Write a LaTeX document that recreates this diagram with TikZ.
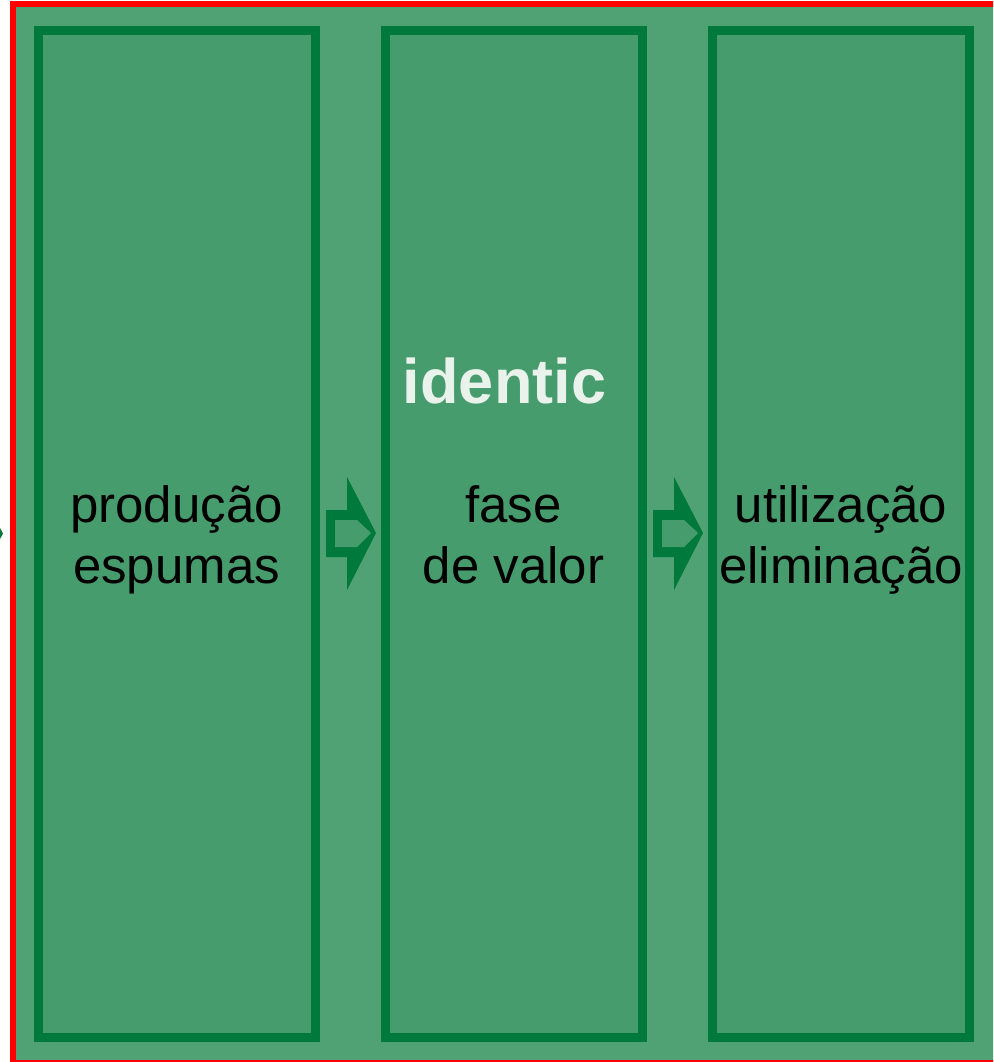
\documentclass[tikz,border=0pt]{standalone}
\usepackage{fontspec}
\setmainfont{Liberation Sans}
\definecolor{framered}{RGB}{255,0,0}
\definecolor{panelgreen}{RGB}{80,162,116}
\definecolor{boxgreen}{RGB}{71,156,110}
\definecolor{linegreen}{RGB}{0,122,60}
\definecolor{paletext}{RGB}{234,242,236}
\tikzset{
  phase/.style={draw=linegreen, fill=boxgreen, line width=9pt,
    minimum height=1006.5pt, inner sep=0pt},
  phaselabel/.style={anchor=base, text=black, inner sep=0pt,
    font=\fontsize{51}{61}\selectfont},
  headlabel/.style={anchor=base, text=paletext, inner sep=0pt,
    font=\fontsize{63}{72}\selectfont\bfseries},
}
% hollow block arrow whose left end sits at the given coordinate (shaft centre)
\newcommand\hollowarrow[1]{%
  \fill[linegreen] ($(#1)+(0,-25)$) -- ++(21,0) -- ++(0,-33) -- ++(29,56)
    -- ++(-29,57) -- ++(0,-33) -- ++(-21,0) -- cycle;
  \fill[boxgreen] ($(#1)+(9,-15)$) -- ++(22,0) -- ++(14,13) -- ++(-14,14)
    -- ++(-22,0) -- cycle;}
\usetikzlibrary{calc}
\begin{document}
\begin{tikzpicture}[x=1pt,y=-1pt]
\useasboundingbox (0,0) rectangle (993,1062);
\clip (0,0) rectangle (993,1062);

% panel with red frame (left and top heavy, bottom hairline)
\fill[panelgreen] (13,4) rectangle (1000,1061);
\draw[framered, line width=6pt] (1000,4) -- (13,4) -- (13,1062);
\draw[framered, line width=1.5pt] (13,1061) -- (1000,1061);

% incoming arrow tip at the left border
\coordinate (inTip) at (3,533.5);
\fill[linegreen] (inTip) -- (-1,526) -- (-1,541) -- cycle;

% the three phases
\node[phase, minimum width=277pt] (prod) at (176.5,534.25) {};
\node[phase, minimum width=256.5pt] (valor) at (513.75,534.25) {};
\node[phase, minimum width=257.5pt] (elim) at (840.75,534.25) {};

% arrows between phases
\coordinate (a1) at (326,535);
\coordinate (a2) at (653,535);
\hollowarrow{a1}
\hollowarrow{a2}

% labels
\node[headlabel] (ident) at (504.5,403) {identic};
\node[phaselabel] (prodA) at (176.5,522) {produção};
\node[phaselabel] (prodB) at (176.5,583) {espumas};
\node[phaselabel] (valA) at (513.5,522) {fase};
\node[phaselabel] (valB) at (513.5,583) {de valor};
\node[phaselabel] (elimA) at (841,522) {utilização};
\node[phaselabel] (elimB) at (841,583) {eliminação};
\end{tikzpicture}
\end{document}
